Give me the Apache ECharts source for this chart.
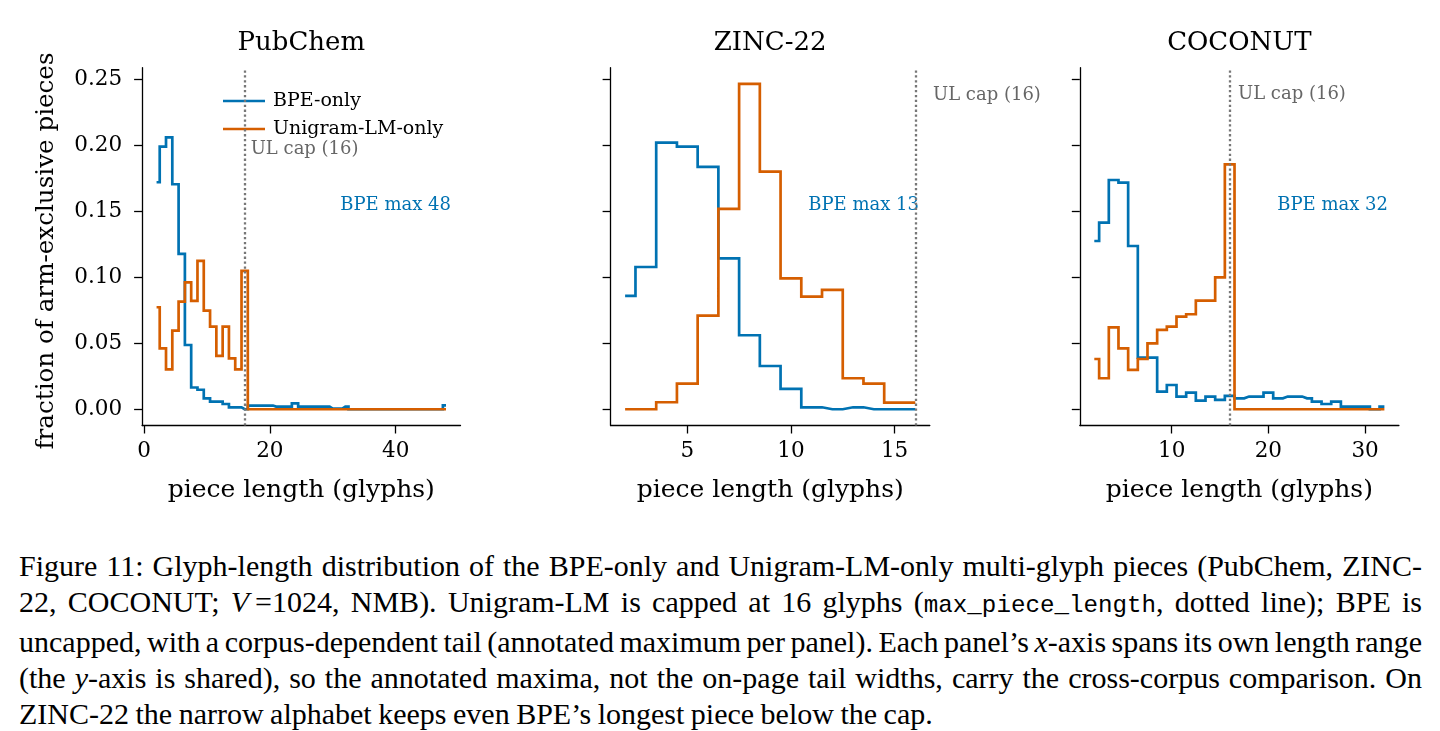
<!DOCTYPE html>
<html>
<head>
<meta charset="utf-8">
<script src="https://cdn.jsdelivr.net/npm/echarts@6/dist/echarts.min.js"></script>
<style>
  body { margin: 0; background: #fff; width: 1440px; height: 731px; overflow: hidden; position: relative; }
  #chart { position: absolute; left: 0; top: 0; width: 1440px; height: 530px; }
  #caption { position: absolute; left: 19px; top: 548px; width: 1403px;
    font-family: "Liberation Serif", "Times New Roman", Tinos, "Nimbus Roman", Times, serif;
    font-size: 30px; line-height: 35.9px; color: #000; }
  #caption div { text-align: justify; text-align-last: justify; white-space: nowrap; word-spacing: -3px; }
  #caption div.last { text-align-last: left; word-spacing: -1px; }
  #caption code { font-family: "Liberation Mono", "Courier New", Cousine, monospace; font-size: 24.2px; word-spacing: 0; }
</style>
</head>
<body>
<div id="chart"></div>
<div id="caption">
  <div>Figure 11: Glyph-length distribution of the BPE-only and Unigram-LM-only multi-glyph pieces (PubChem, ZINC-</div>
  <div>22, COCONUT; <i>V</i>&#8201;=1024, NMB). Unigram-LM is capped at 16 glyphs (<code>max_piece_length</code>, dotted line); BPE is</div>
  <div>uncapped, with a corpus-dependent tail (annotated maximum per panel). Each panel’s <i>x</i>-axis spans its own length range</div>
  <div>(the <i>y</i>-axis is shared), so the annotated maxima, not the on-page tail widths, carry the cross-corpus comparison. On</div>
  <div class="last">ZINC-22 the narrow alphabet keeps even BPE’s longest piece below the cap.</div>
</div>
<script>
// piece lengths (glyphs) per corpus
const pubchemLen = [2, 3, 4, 5, 6, 7, 8, 9, 10, 11, 12, 13, 14, 15, 16, 17, 18, 19, 20, 21, 22, 23, 24, 25,
  26, 27, 28, 29, 30, 31, 32, 33, 34, 35, 36, 37, 38, 39, 40, 41, 42, 43, 44, 45, 46, 47, 48];
const zincLen = [2, 3, 4, 5, 6, 7, 8, 9, 10, 11, 12, 13, 14, 15, 16];
const coconutLen = [2, 3, 4, 5, 6, 7, 8, 9, 10, 11, 12, 13, 14, 15, 16, 17, 18, 19, 20, 21, 22, 23, 24, 25,
  26, 27, 28, 29, 30, 31, 32];

// fraction of arm-exclusive pieces
const pubchemBpe = [0.172, 0.199, 0.206, 0.1705, 0.1177, 0.0487, 0.0165, 0.0148, 0.0083, 0.0058, 0.0058,
  0.004, 0.0015, 0.0015, 0, 0.0028, 0.0028, 0.0028, 0.0028, 0.002, 0.002, 0.002, 0.0045, 0.002, 0.002,
  0.002, 0.002, 0.002, 0.0005, 0.0005, 0.002, 0, 0, 0, 0, 0, 0, 0, 0, 0, 0, 0, 0, 0, 0, 0, 0.003];
const pubchemUl = [0.0773, 0.0462, 0.0303, 0.0596, 0.0816, 0.0962, 0.0821, 0.1124, 0.0747, 0.0626, 0.0404,
  0.0626, 0.0386, 0.0303, 0.1048, 0, 0, 0, 0, 0, 0, 0, 0, 0, 0, 0, 0, 0, 0, 0, 0, 0, 0, 0, 0, 0, 0, 0, 0,
  0, 0, 0, 0, 0, 0, 0, 0];
const zincBpe = [0.0859, 0.1078, 0.202, 0.199, 0.1836, 0.1144, 0.0561, 0.0328, 0.0154, 0.0015, 0, 0.0015, 0, 0, 0];
const zincUl = [0, 0, 0.0053, 0.0194, 0.071, 0.1518, 0.2465, 0.18, 0.0992, 0.0854, 0.0904, 0.0235, 0.0194, 0.005, 0.005];
const coconutBpe = [0.1275, 0.1414, 0.1737, 0.1717, 0.1237, 0.0391, 0.0391, 0.0134, 0.0184, 0.0096, 0.0126,
  0.0066, 0.0096, 0.0071, 0.0101, 0.0083, 0.0096, 0.0096, 0.0126, 0.0083, 0.0096, 0.0096, 0.0083, 0.0058,
  0.004, 0.0058, 0.002, 0.002, 0.002, 0, 0.002];
const coconutUl = [0.0381, 0.0235, 0.0621, 0.0462, 0.0298, 0.0381, 0.05, 0.0601, 0.0626, 0.0702, 0.072,
  0.0823, 0.0823, 0.1, 0.1856, 0, 0, 0, 0, 0, 0, 0, 0, 0, 0, 0, 0, 0, 0, 0, 0];

const panelTitles = ['PubChem', 'ZINC-22', 'COCONUT'];
const bpeMax = ['BPE max 48', 'BPE max 13', 'BPE max 32'];
const xTicks = [[0, 20, 40], [5, 10, 15], [10, 20, 30]];
const yTicks = [0, 0.05, 0.1, 0.15, 0.2, 0.25];
const ulCap = 16;

const BLUE = '#0072B2';
const ORANGE = '#D55E00';
const FONT = 'DejaVu Serif';

// layout of the three axes boxes (pixels) and their x ranges
const panels = [
  { left: 142.1, width: 318.4, xMin: -0.3, xMax: 50.3, len: pubchemLen, bpe: pubchemBpe, ul: pubchemUl,
    capText: [250.7, 149], maxText: [451, 205] },
  { left: 610.6, width: 319.2, xMin: 1.3, xMax: 16.7, len: zincLen, bpe: zincBpe, ul: zincUl,
    capText: [933, 95], maxText: [919, 205] },
  { left: 1079.8, width: 319.1, xMin: 0.5, xMax: 33.5, len: coconutLen, bpe: coconutBpe, ul: coconutUl,
    capText: [1238, 94], maxText: [1388, 205] }
];
const gridTop = 67.7;
const gridHeight = 357.8;

const chart = echarts.init(document.getElementById('chart'), null, { renderer: 'canvas' });

const grids = [], xAxes = [], yAxes = [], series = [], graphics = [];

panels.forEach((p, i) => {
  grids.push({ left: p.left, top: gridTop, width: p.width, height: gridHeight });

  xAxes.push({
    type: 'value', gridIndex: i, min: p.xMin, max: p.xMax,
    axisLine: { show: true, onZero: false, lineStyle: { color: '#000', width: 1.3 } },
    axisTick: { show: true, length: 8, customValues: xTicks[i], lineStyle: { color: '#000', width: 1.3 } },
    axisLabel: { customValues: xTicks[i], color: '#000', fontFamily: FONT, fontSize: 21.5, margin: 15 },
    splitLine: { show: false }
  });

  yAxes.push({
    type: 'value', gridIndex: i, min: -0.0123, max: 0.2588,
    axisLine: { show: true, onZero: false, lineStyle: { color: '#000', width: 1.3 } },
    axisTick: { show: true, length: 8, customValues: yTicks, lineStyle: { color: '#000', width: 1.3 } },
    axisLabel: {
      show: i === 0, customValues: yTicks, color: '#000', fontFamily: FONT, fontSize: 21.5, margin: 20,
      formatter: v => v.toFixed(2)
    },
    splitLine: { show: false }
  });

  series.push({
    name: 'BPE-only', type: 'line', step: 'middle', xAxisIndex: i, yAxisIndex: i,
    data: p.len.map((x, k) => [x, p.bpe[k]]),
    symbol: 'none', z: 3,
    lineStyle: { color: BLUE, width: 2.7, join: 'miter' }, itemStyle: { color: BLUE }
  });
  series.push({
    name: 'Unigram-LM-only', type: 'line', step: 'middle', xAxisIndex: i, yAxisIndex: i,
    data: p.len.map((x, k) => [x, p.ul[k]]),
    symbol: 'none', z: 4,
    lineStyle: { color: ORANGE, width: 2.7, join: 'miter' }, itemStyle: { color: ORANGE },
    markLine: {
      silent: true, symbol: 'none', label: { show: false },
      lineStyle: { color: '#777', width: 2.3, type: [2.3, 2.6] },
      data: [{ xAxis: ulCap }]
    }
  });

  const cx = p.left + p.width / 2;
  graphics.push({ type: 'text', x: cx, y: 43,
    style: { text: panelTitles[i], font: `26px "${FONT}"`, fill: '#000', textAlign: 'center', textVerticalAlign: 'middle' } });
  graphics.push({ type: 'text', x: cx, y: 490,
    style: { text: 'piece length (glyphs)', font: `25px "${FONT}"`, fill: '#000', textAlign: 'center', textVerticalAlign: 'middle' } });
  graphics.push({ type: 'text', x: p.maxText[0], y: p.maxText[1],
    style: { text: bpeMax[i], font: `18px "${FONT}"`, fill: BLUE, textAlign: 'right', textVerticalAlign: 'middle' } });
  graphics.push({ type: 'text', x: p.capText[0], y: p.capText[1],
    style: { text: 'UL cap (16)', font: `18px "${FONT}"`, fill: '#666', textAlign: 'left', textVerticalAlign: 'middle' } });
});

graphics.push({ type: 'text', x: 47, y: 251, rotation: Math.PI / 2,
  style: { text: 'fraction of arm-exclusive pieces', font: `24.6px "${FONT}"`, fill: '#000', textAlign: 'center', textVerticalAlign: 'middle' } });

chart.setOption({
  animation: false,
  backgroundColor: '#fff',
  grid: grids,
  xAxis: xAxes,
  yAxis: yAxes,
  legend: {
    data: ['BPE-only', 'Unigram-LM-only'],
    orient: 'vertical', left: 218, top: 86,
    icon: 'rect', itemWidth: 42, itemHeight: 2.7, itemGap: 8,
    selectedMode: false,
    textStyle: { fontFamily: FONT, fontSize: 19, color: '#000', lineHeight: 20, padding: [0, 0, 0, 3] }
  },
  series: series,
  graphic: graphics
});
</script>
</body>
</html>
